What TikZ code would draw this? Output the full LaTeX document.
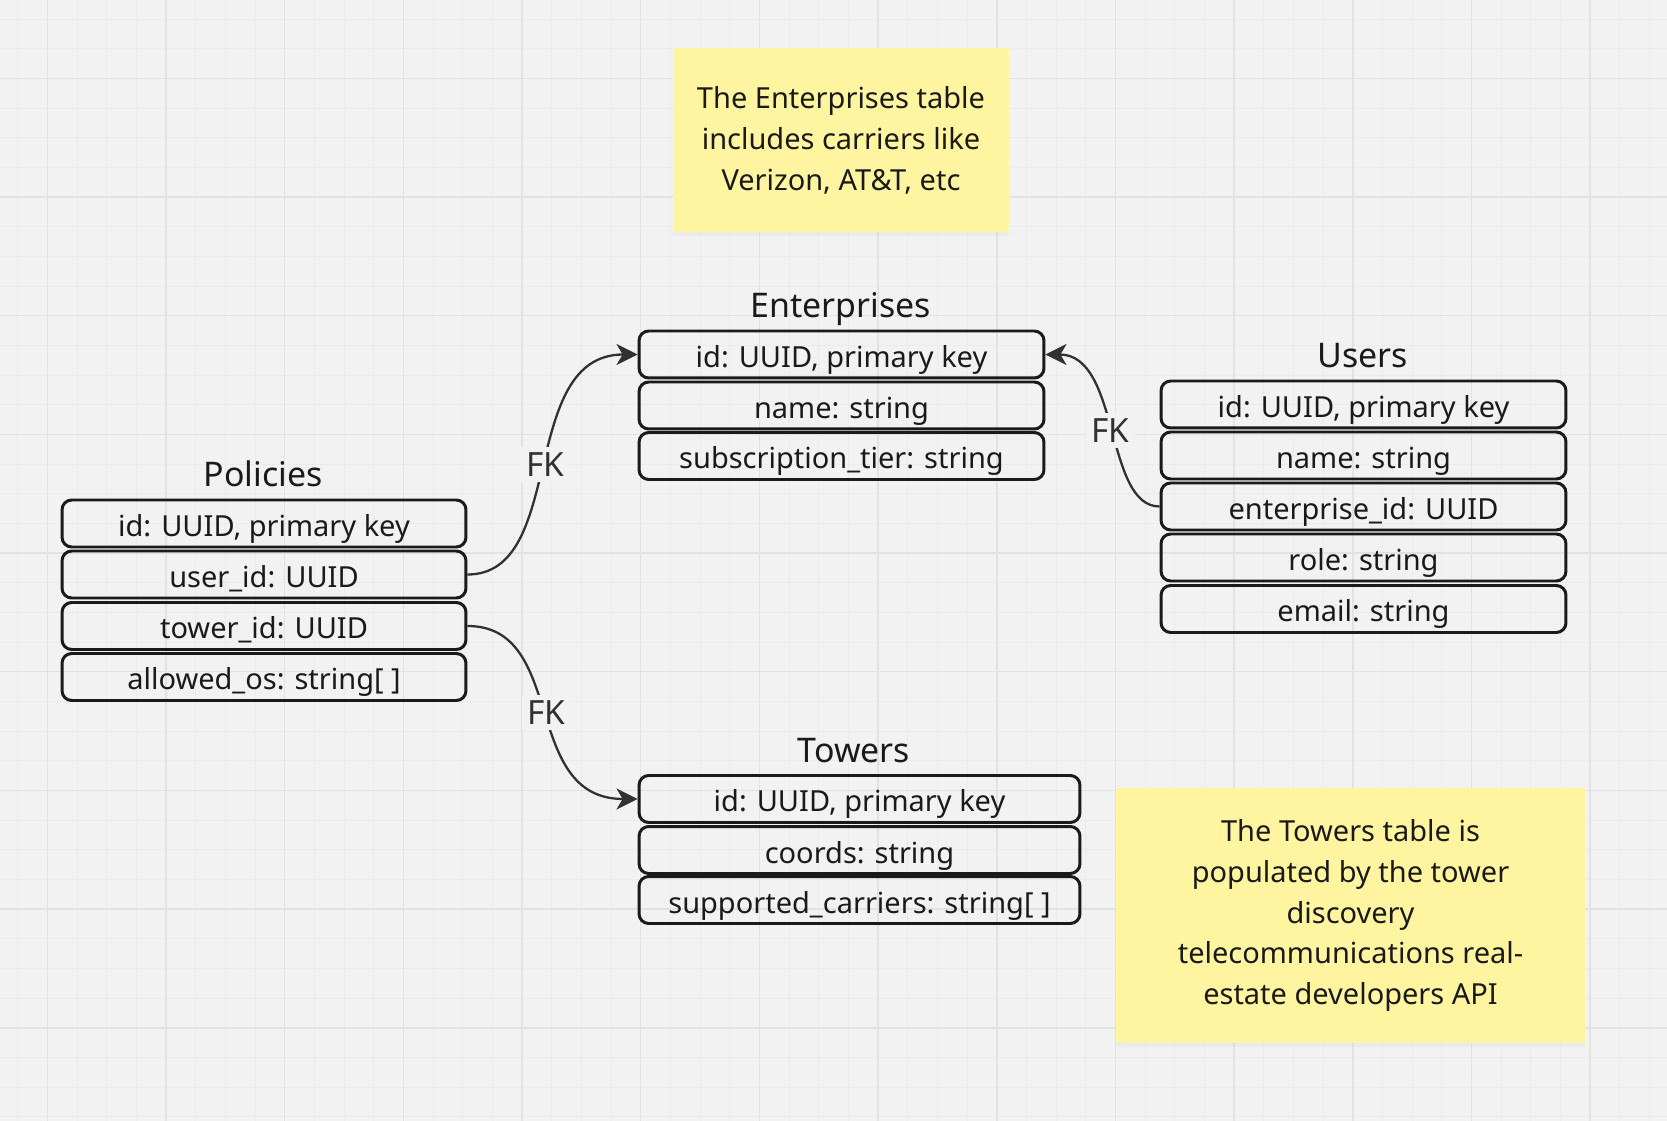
\documentclass[tikz,border=0pt]{standalone}
\usepackage{fontspec}
\setmainfont{Noto Sans}
\usetikzlibrary{arrows.meta,shadows}

\definecolor{canvas}{HTML}{F2F2F2}
\definecolor{gridminor}{HTML}{EBEBEB}
\definecolor{gridmajor}{HTML}{E2E2E2}
\definecolor{ink}{HTML}{1A1A1A}
\definecolor{sticky}{HTML}{FFF5A0}

\begin{document}
\begin{tikzpicture}[x=0.02cm,y=-0.02cm,
  field/.style={draw=ink,line width=1.7pt,rounded corners=5.5pt,minimum height=0.94cm,
    inner sep=0pt,text height=0.52cm,text depth=0cm,text=ink,font=\fontsize{16.5}{20}\selectfont},
  tabletitle/.style={anchor=base,text=ink,font=\fontsize{19.3}{23}\selectfont},
  note/.style={fill=sticky,align=center,text=ink,inner sep=0pt,
    font=\fontsize{16.5}{23.3}\selectfont,
    drop shadow={opacity=0.06,shadow xshift=0pt,shadow yshift=-2.5pt}},
  fk/.style={fill=canvas,text=ink!90,inner sep=3pt,font=\fontsize{19}{23}\selectfont},
  link/.style={draw=ink!90,line width=1.3pt,-{Stealth[length=12pt,width=12pt,inset=3.5pt]}}]

\fill[canvas] (0,0) rectangle (1667,1121);
\useasboundingbox (0,0) rectangle (1667,1121);

% grid
\foreach \gx in {0,...,56} \draw[gridminor,line width=0.5pt] ({17.6+29.67*\gx},0) -- ++(0,1121);
\foreach \gy in {0,...,37} \draw[gridminor,line width=0.5pt] (0,{18.96+29.67*\gy}) -- ++(1667,0);
\foreach \gx in {0,...,13} \draw[gridmajor,line width=0.9pt] ({47.3+118.68*\gx},0) -- ++(0,1121);
\foreach \gy in {0,...,8} \draw[gridmajor,line width=0.9pt] (0,{78.3+118.68*\gy}) -- ++(1667,0);

% notes
\node[note,minimum width=6.72cm,minimum height=3.68cm] (entnote) at (841,140)
  {The Enterprises table\\includes carriers like\\Verizon, AT\&T, etc};
\node[note,minimum width=9.38cm,minimum height=5.1cm] (townote) at (1350.5,915.5)
  {The Towers table is\\populated by the tower\\discovery\\telecommunications real-\\estate developers API};

% Enterprises
\node[tabletitle] (enttitle) at (841,318) {Enterprises};
\node[field,minimum width=8.1cm] (ent1) at (841.5,354.5) {id: UUID, primary key};
\node[field,minimum width=8.1cm] (ent2) at (841.5,405.5) {name: string};
\node[field,minimum width=8.1cm] (ent3) at (841.5,456) {subscription\_tier: string};

% Users
\node[tabletitle] (usrtitle) at (1363,368) {Users};
\node[field,minimum width=8.1cm] (usr1) at (1363.5,404.5) {id: UUID, primary key};
\node[field,minimum width=8.1cm] (usr2) at (1363.5,455.5) {name: string};
\node[field,minimum width=8.1cm] (usr3) at (1363.5,506.5) {enterprise\_id: UUID};
\node[field,minimum width=8.1cm] (usr4) at (1363.5,557.5) {role: string};
\node[field,minimum width=8.1cm] (usr5) at (1363.5,609) {email: string};

% Policies
\node[tabletitle] (poltitle) at (263,487) {Policies};
\node[field,minimum width=8.08cm] (pol1) at (264,523.5) {id: UUID, primary key};
\node[field,minimum width=8.08cm] (pol2) at (264,574.5) {user\_id: UUID};
\node[field,minimum width=8.08cm] (pol3) at (264,626) {tower\_id: UUID};
\node[field,minimum width=8.08cm] (pol4) at (264,677) {allowed\_os: string[\ ]};

% Towers
\node[tabletitle] (towtitle) at (854,762) {Towers};
\node[field,minimum width=8.82cm] (tow1) at (859.5,799) {id: UUID, primary key};
\node[field,minimum width=8.82cm] (tow2) at (859.5,850) {coords: string};
\node[field,minimum width=8.82cm] (tow3) at (859.5,900) {supported\_carriers: string[\ ]};

% foreign keys
\draw[link] (pol2.east) .. controls +(100,0) and +(-120,0) .. node[fk] {FK} (ent1.west);
\draw[link] (usr3.west) .. controls +(-55,0) and +(75,0) .. node[fk] {FK} (ent1.east);
\draw[link] (pol3.east) .. controls +(100,0) and +(-117,0) .. node[fk] {FK} (tow1.west);

\end{tikzpicture}
\end{document}
